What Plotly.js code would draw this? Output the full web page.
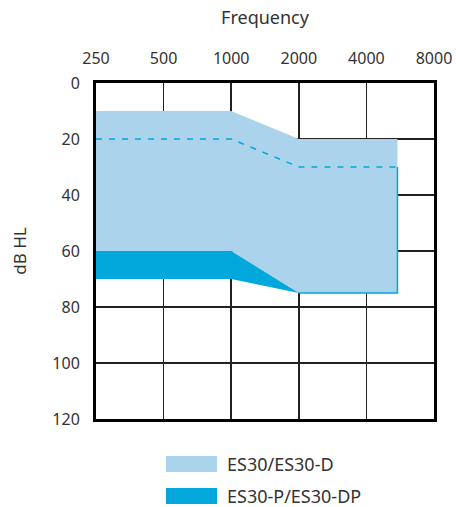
<!DOCTYPE html>
<html><head><meta charset="utf-8">
<script src="https://cdn.plot.ly/plotly-3.0.1.min.js"></script>
<style>html,body{margin:0;padding:0;background:#fff}#chart{width:456px;height:507px}</style>
</head><body><div id="chart"></div>
<script>
var freqTicks = [250, 500, 1000, 2000, 4000, 8000];
var freqTickText = ['250', '500', '1000', '2000', '4000', '8000'];
var dbTicks = [0, 20, 40, 60, 80, 100, 120];

// ES30/ES30-D fitting range (polygon outline: upper edge then lower edge back)
var lightX = [250, 1000, 2000, 5500, 5500, 2000, 1000, 250];
var lightY = [10, 10, 20, 20, 75, 75, 60, 60];
// ES30-P/ES30-DP additional range
var darkX = [250, 1000, 2000, 1000, 250];
var darkY = [60, 60, 75, 70, 70];
// dashed line
var dashX = [250, 1000, 2000, 5500];
var dashY = [20, 20, 30, 30];
// outline of lower right edge
var edgeX = [2000, 5500, 5500];
var edgeY = [75, 75, 30];

var lightColor = '#abd3ec';
var darkColor = '#00a8dc';
var fnt = 'Noto Sans, sans-serif';

var traces = [
  {x: lightX, y: lightY, type: 'scatter', mode: 'lines', fill: 'toself', fillcolor: lightColor, line: {width: 0, color: lightColor}, name: 'ES30/ES30-D', hoverinfo: 'skip'},
  {x: darkX, y: darkY, type: 'scatter', mode: 'lines', fill: 'toself', fillcolor: darkColor, line: {width: 0, color: darkColor}, name: 'ES30-P/ES30-DP', hoverinfo: 'skip'},
  {x: edgeX, y: edgeY, type: 'scatter', mode: 'lines', line: {width: 1.5, color: darkColor}, showlegend: false, hoverinfo: 'skip'},
  {x: dashX, y: dashY, type: 'scatter', mode: 'lines', line: {width: 1.5, color: darkColor, dash: '6px,7px'}, showlegend: false, hoverinfo: 'skip'}
];

var layout = {
  width: 456, height: 507,
  margin: {l: 96, r: 22, t: 83, b: 88},
  paper_bgcolor: '#fff', plot_bgcolor: '#fff',
  showlegend: false,
  font: {family: fnt, size: 16, color: '#333'},
  xaxis: {
    type: 'log', side: 'top',
    range: [Math.log10(250), Math.log10(8000)],
    tickvals: freqTicks, ticktext: freqTickText,
    showgrid: true, gridcolor: '#222', gridwidth: 1.5,
    showline: true, linecolor: '#000', linewidth: 3, mirror: true,
    ticks: '', zeroline: false, ticklabelstandoff: 10,
    title: {text: 'Frequency', font: {size: 18, color: '#333'}, standoff: 18},
    tickfont: {size: 16, color: '#333'}, layer: 'above traces'
  },
  yaxis: {
    range: [120, 0], tickvals: dbTicks,
    showgrid: true, gridcolor: '#222', gridwidth: 1.5,
    showline: true, linecolor: '#000', linewidth: 3, mirror: true,
    ticks: '', zeroline: false, ticklabelstandoff: 10,
    title: {text: 'dB HL', font: {size: 17, color: '#333'}, standoff: 22},
    tickfont: {size: 16, color: '#333'}, layer: 'below traces'
  },
  shapes: [
    {type: 'rect', xref: 'paper', yref: 'paper', x0: 0.207, x1: 0.358, y0: -0.158, y1: -0.110, fillcolor: lightColor, line: {width: 0}},
    {type: 'rect', xref: 'paper', yref: 'paper', x0: 0.207, x1: 0.358, y0: -0.253, y1: -0.205, fillcolor: darkColor, line: {width: 0}}
  ],
  annotations: [
    {xref: 'paper', yref: 'paper', x: 0.383, y: -0.134, xanchor: 'left', yanchor: 'middle', text: 'ES30/ES30-D', showarrow: false, font: {size: 18, color: '#333'}},
    {xref: 'paper', yref: 'paper', x: 0.383, y: -0.229, xanchor: 'left', yanchor: 'middle', text: 'ES30-P/ES30-DP', showarrow: false, font: {size: 18, color: '#333'}}
  ]
};

Plotly.newPlot('chart', traces, layout, {displayModeBar: false, staticPlot: true});
</script>
</body></html>
